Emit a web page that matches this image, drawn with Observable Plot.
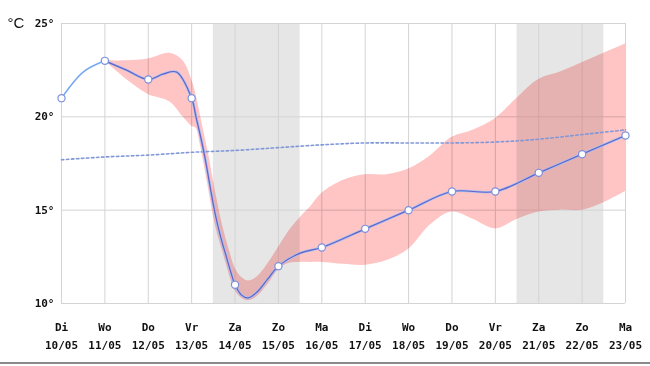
<!DOCTYPE html>
<html><head><meta charset="utf-8">
<script src="https://cdn.jsdelivr.net/npm/d3@7"></script>
<script src="https://cdn.jsdelivr.net/npm/@observablehq/plot@0.6"></script>
<style>
html,body{margin:0;padding:0;background:#fff;}
#chart{width:650px;border-bottom:2px solid #8a8a8a;}
#chart svg{display:block;}
</style></head><body><div id="chart"></div>
<script>
const dayNums = [10,11,12,13,14,15,16,17,18,19,20,21,22,23];
const dayNames = ["Di","Wo","Do","Vr","Za","Zo","Ma","Di","Wo","Do","Vr","Za","Zo","Ma"];
const dateLabels = ["10/05","11/05","12/05","13/05","14/05","15/05","16/05","17/05","18/05","19/05","20/05","21/05","22/05","23/05"];
const yTicks = [10,15,20,25];
const weekendStart = [13.5, 20.5];
const weekendEnd = [15.5, 22.5];

// observed temperature (first day) and forecast line
const earlyX = [10, 10.5, 11];
const earlyT = [21.0, 22.4, 23.0];
const lineX = [11, 11.5, 12, 12.35, 12.65, 13, 13.1, 13.2, 13.3, 13.4, 13.5, 13.6, 13.7, 13.8, 13.9, 14, 14.15, 14.3, 14.5, 14.75, 15, 15.5, 16, 17, 18, 19, 20, 21, 22, 23];
const lineT = [23.0, 22.5, 22.0, 22.3, 22.4, 21.0, 20.0, 19.0, 17.9, 16.6, 15.3, 14.2, 13.3, 12.5, 11.7, 11.0, 10.45, 10.3, 10.6, 11.3, 12.0, 12.7, 13.0, 14.0, 15.0, 16.0, 16.0, 17.0, 18.0, 19.0];
const pointT = [21,23,22,21,11,12,13,14,15,16,16,17,18,19];

// uncertainty band
const bandX    = [11,   11.5, 12,   12.5, 12.8, 13,   13.1, 13.2, 13.3, 13.4, 13.5, 13.6, 13.7, 13.8, 13.9, 14,   14.15, 14.3,  14.5,  14.75, 15,   15.25, 15.5, 15.75, 16,   16.5, 17,    17.5, 18,   18.5, 19,   19.5, 20,   20.5, 21,   21.5, 22,   22.5, 23];
const bandLow  = [23.0, 22.0, 21.2, 20.8, 20.0, 19.5, 19.4, 18.5, 17.3, 16.0, 14.7, 13.7, 12.9, 12.1, 11.3, 10.7, 10.3,  10.15, 10.35, 11.0,  11.8, 12.15, 12.2, 12.2,  12.2, 12.1, 12.05, 12.3, 12.9, 14.2, 14.9, 14.5, 14.0, 14.5, 14.9, 15.0, 15.0, 15.4, 16.0];
const bandHigh = [23.0, 23.0, 23.1, 23.4, 23.0, 22.0, 21.2, 20.1, 19.0, 17.9, 16.6, 15.4, 14.3, 13.4, 12.6, 11.9, 11.4,  11.2,  11.4,  12.1,  13.0, 13.9,  14.6, 15.2,  15.9, 16.6, 16.9,  16.9, 17.2, 17.9, 18.9, 19.3, 19.9, 21.0, 22.0, 22.4, 22.9, 23.4, 23.9];

// long-term normal
const normalX = [10, 11, 12, 13, 14, 15, 16, 17, 18, 19, 20, 21, 22, 23];
const normalT = [17.7, 17.85, 17.95, 18.1, 18.2, 18.35, 18.5, 18.6, 18.6, 18.6, 18.65, 18.8, 19.05, 19.3];

const weekends = weekendStart.map((s,i)=>({x1:s, x2:weekendEnd[i]}));
const early = earlyX.map((x,i)=>({x, t:earlyT[i]}));
const line = lineX.map((x,i)=>({x, t:lineT[i]}));
const points = dayNums.map((x,i)=>({x, t:pointT[i]}));
const band = bandX.map((x,i)=>({x, lo:bandLow[i], hi:bandHigh[i]}));
const normal = normalX.map((x,i)=>({x, t:normalT[i]}));

const mono = "DejaVu Sans Mono";
const chart = Plot.plot({
  width: 650, height: 362,
  marginLeft: 61, marginRight: 25, marginTop: 23, marginBottom: 59,
  x: {domain: [10, 23]},
  y: {domain: [10, 25]},
  style: {background: "#fff"},
  marks: [
    Plot.rect(weekends, {x1:"x1", x2:"x2", y1:10, y2:25, fill:"#e6e6e6"}),
    Plot.gridX(dayNums, {stroke:"#d4d4d4", strokeOpacity:1}),
    Plot.gridY(yTicks, {stroke:"#d4d4d4", strokeOpacity:1}),
    Plot.areaY(band, {x:"x", y1:"lo", y2:"hi", fill:"#ffc4c4", curve:"catmull-rom", mixBlendMode:"multiply"}),
    Plot.line(normal, {x:"x", y:"t", stroke:"#8098d8", strokeWidth:1.6, strokeDasharray:"2.5,2.5", curve:"catmull-rom"}),
    Plot.line(early, {x:"x", y:"t", stroke:"#78aaf0", strokeWidth:1.6, curve:"catmull-rom"}),
    Plot.line(line, {x:"x", y:"t", stroke:"#a8c0f4", strokeWidth:2.6, curve:"catmull-rom"}),
    Plot.line(line, {x:"x", y:"t", stroke:"#6262c4", strokeWidth:1.2, curve:"catmull-rom"}),
    Plot.dot(points, {x:"x", y:"t", r:3.6, fill:"#fff", stroke:"#7c8fdc", strokeWidth:1.2}),
    Plot.axisX(dayNums, {tickSize:0, tickPadding:15, fontFamily:mono, fontSize:11, fontWeight:"bold", fill:"#111", lineHeight:1.6,
      tickFormat: d => dayNames[dayNums.indexOf(d)] + "\n" + dateLabels[dayNums.indexOf(d)]}),
    Plot.axisY(yTicks, {tickSize:0, tickPadding:7, fontFamily:mono, fontSize:11, fontWeight:"bold", fill:"#111",
      tickFormat: d => d + "°"}),
    Plot.text(["°C"], {frameAnchor:"top-left", dx:-54, dy:-6, textAnchor:"start", fontFamily:"Liberation Sans", fontSize:15, fill:"#111"})
  ]
});
document.getElementById("chart").appendChild(chart);
</script></body></html>
